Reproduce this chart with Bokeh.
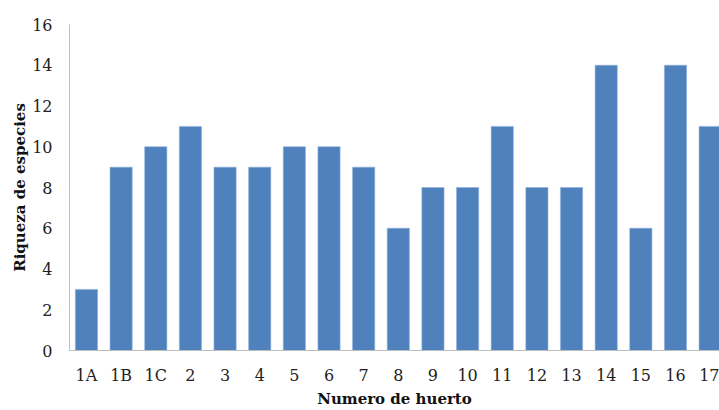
from bokeh.plotting import figure
from bokeh.models import Range1d, FixedTicker
from bokeh.embed import file_html
from bokeh.resources import INLINE

categories = ["1A", "1B", "1C", "2", "3", "4", "5", "6", "7", "8", "9", "10",
              "11", "12", "13", "14", "15", "16", "17"]
values = [3, 9, 10, 11, 9, 9, 10, 10, 9, 6, 8, 8, 11, 8, 8, 14, 6, 14, 11]
y_ticks = [0, 2, 4, 6, 8, 10, 12, 14, 16]

xs = list(range(len(categories)))
FONT = "DejaVu Serif"

p = figure(width=719, height=410, output_backend="svg", toolbar_location=None,
           x_range=Range1d(-0.49, 18.27), y_range=Range1d(0, 16),
           min_border_left=69, min_border_right=0, min_border_top=24, min_border_bottom=59)

p.vbar(x=xs, top=values, width=0.64, fill_color="#4f81bd", line_color="#8fb0d8", line_width=0.6)

p.xgrid.grid_line_color = None
p.ygrid.grid_line_color = None
p.outline_line_color = None
p.background_fill_color = "white"
p.border_fill_color = "white"

p.xaxis.ticker = FixedTicker(ticks=xs)
p.xaxis.major_label_overrides = {i: c for i, c in enumerate(categories)}
p.yaxis.ticker = FixedTicker(ticks=y_ticks)

for ax in (p.xaxis[0], p.yaxis[0]):
    ax.axis_line_color = "#bfbfbf"
    ax.axis_line_width = 1
    ax.major_tick_line_color = None
    ax.minor_tick_line_color = None
    ax.major_tick_out = 0
    ax.major_tick_in = 0
    ax.minor_tick_out = 0
    ax.minor_tick_in = 0
    ax.major_label_text_font = FONT
    ax.major_label_text_font_size = "16px"
    ax.major_label_text_color = "#222222"
    ax.axis_label_text_font = FONT
    ax.axis_label_text_font_size = "15px"
    ax.axis_label_text_font_style = "bold"
    ax.axis_label_text_color = "#111111"

p.xaxis.axis_label = "Numero de huerto"
p.yaxis.axis_label = "Riqueza de especies"
p.xaxis.major_label_standoff = 15
p.yaxis.major_label_standoff = 17
p.xaxis.axis_label_standoff = 2
p.yaxis.axis_label_standoff = 0

open("out.html", "w").write(file_html(p, INLINE))
